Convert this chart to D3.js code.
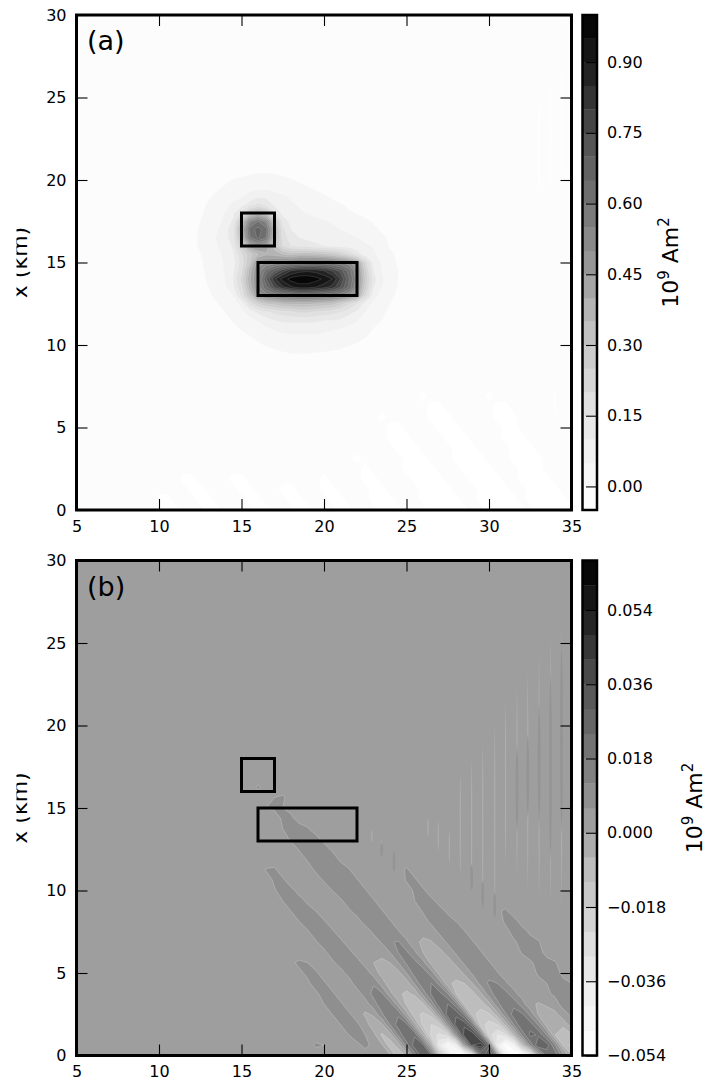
<!DOCTYPE html>
<html>
<head>
<meta charset="utf-8">
<script src="https://cdn.jsdelivr.net/npm/d3@7"></script>
<style>
  body { margin: 0; background: #fff; }
  text { font-family: "DejaVu Sans", sans-serif; }
</style>
</head>
<body>
<script>
const width = 706;
const height = 1085;

const xTicks = [5, 10, 15, 20, 25, 30, 35];
const yTicks = [0, 5, 10, 15, 20, 25, 30];
const boxes = [[15, 17, 16, 18], [16, 22, 13, 15]];

const levelsA = d3.range(-5, 101, 5); // units of 0.01
const levelsB = d3.range(-54, 67, 6); // units of 0.001
const colorbarTicksA = [0, 0.15, 0.3, 0.45, 0.6, 0.75, 0.9];
const colorbarTicksB = [-0.054, -0.036, -0.018, 0, 0.018, 0.036, 0.054];

const greysStops = ["#ffffff", "#f0f0f0", "#d9d9d9", "#bdbdbd", "#969696", "#737373", "#525252", "#252525", "#000000"];

// panel (a), blob: x 11.5..25.5 step 0.5, rows from y 21.5 down to 8.5, units of 0.01
const blobX0 = 11.5, blobDx = 0.5, blobY0 = 21.5, blobDy = -0.5;
const blobRows = [
[-3,-3,-3,-3,-3,-3,-3,-3,-3,-3,-3,-3,-3,-3,-3,-3,-3,-3,-3,-3,-3,-3,-3,-3,-3,-3,-3,-3,-3],
[-3,-3,-3,-3,-3,-3,-3,-3,-3,-3,-2.5,-2.5,-2.5,-3,-3,-3,-3,-3,-3,-3,-3,-3,-3,-3,-3,-3,-3,-3,-3],
[-3,-3,-3,-3,-3,-2.5,-1.9,-1.4,-.8,-.4,-.2,-.5,-1,-1.6,-2.3,-3,-3,-3,-3,-3,-3,-3,-3,-3,-3,-3,-3,-3,-3],
[-3,-3,-3,-3,-2,-1,.2,.8,1.3,1.6,1.6,1.2,.8,.3,-.5,-1.3,-2.2,-3,-3,-3,-3,-3,-3,-3,-3,-3,-3,-3,-3],
[-3,-3,-3,-1.5,-.5,.7,1.5,2.5,3.5,4,4,3.5,2.8,2,1.2,.4,-.5,-1.3,-2,-2.7,-3,-3,-3,-3,-3,-3,-3,-3,-3],
[-3,-2.5,-1.5,-.4,.8,2,3,4.5,7,9,9,7,5.5,4.6,3.5,2.5,1.7,.5,-.6,-1.5,-2.3,-3,-3,-3,-3,-3,-3,-3,-3],
[-3,-2,-.9,.4,1.8,3.5,6,8,12,16,13,9,6,5.4,4.7,3.8,3,2,1.2,.3,-.8,-1.7,-2.5,-3,-3,-3,-3,-3,-3],
[-3,-1.7,-.6,1,2.5,5,9,16,30,36,30,16,8,6.5,5.5,4.8,3.8,3,2.2,1.4,.6,-.3,-1.3,-2.2,-3,-3,-3,-3,-3],
[-2.3,-1.1,0,1.5,3.5,6,11,32,53,60,53,32,13,8.5,7.3,6.5,6,5.3,4.5,3.5,2.5,1.7,.8,-.4,-1.2,-2,-2.7,-3,-3],
[-2,-1,.3,2.3,4.5,7.5,14,39,62,67,62,39,16,10,8.5,7.8,7.2,6.5,5.8,5,4,3,2,.8,-.5,-1.4,-2.3,-3,-3],
[-2,-.9,.5,2.5,5.3,8,13,35,59,66,60,37,18,12,10,9,8.5,8,7.5,7,6,5,3.7,2.2,.7,-.6,-1.5,-2.4,-3],
[-2,-.9,.5,2.5,4.7,7,11,27,42,48,44,32,20,15,13,12,11,10,9,8,7.5,6.5,5.7,4.6,2.2,-.5,-1.4,-2.3,-3],
[-2.3,-1.2,-.2,1.8,3.7,6,9,19,28,35,39,38,35,33,35,35,34,32,30,26,20,13,7,5.7,3,.8,-.8,-1.8,-2.7],
[-2.5,-1.5,-.6,1.4,3.4,5.5,8,17,30,48,50,52,54,56,58,59,60,60,58,55,52,45,22,8.5,4.6,1.6,-.5,-1.6,-2.6],
[-2.7,-1.7,-.9,1,3,5.3,9,19,37,52,62,70,78,85,88,89,88,85,80,73,63,50,27,10,5,2,0,-1.3,-2.3],
[-2.8,-1.9,-1.1,.6,2.5,5,10,22,39,52,70,84,92,97,99,99,97,94,90,80,66,52,29,12,5.7,2.2,0,-1.3,-2.3],
[-3,-2.1,-1.2,0,2,4.2,9,19,37,52,64,76,84,89,92,92,90,87,83,75,64,50,27,10,5,2,-.3,-1.6,-2.5],
[-3,-2.3,-1.5,-.7,1.2,3.2,5,16,30,47,52,55,58,60,62,62,61,60,58,55,50,43,21,7,3,.8,-.7,-2,-2.8],
[-3,-2.6,-2,-1.2,-.3,1.7,3.5,6,17,25,30,32,35,36,36,36,35,34,32,27,21,15,8,3.7,1.8,0,-1.3,-2.4,-3],
[-3,-3,-2.5,-1.8,-1,0,2,4,7,11,14,16,18,19,21,21,19,18,17,15,12,9,5,2.5,.7,-.7,-1.8,-2.8,-3],
[-3,-3,-3,-2.4,-1.6,-.8,.3,2,3.6,5.4,8,10,11,11,11,11,11,10,10,9,7,5.5,3,1.2,0,-1.3,-2.2,-3,-3],
[-3,-3,-3,-3,-2.4,-1.6,-.8,.3,1.7,3,4.2,5.8,7,7.5,7.5,7.5,7,6.3,5.5,5,3.8,2.5,1.2,0,-1.1,-2,-2.8,-3,-3],
[-3,-3,-3,-3,-3,-2.4,-1.7,-1,-.2,.8,1.6,2.4,3.2,3.7,4,4.1,4,3.7,3.2,2.6,1.8,1,.2,-.8,-1.8,-2.6,-3,-3,-3],
[-3,-3,-3,-3,-3,-3,-2.6,-1.9,-1.3,-.5,.3,.9,1.4,1.7,1.9,2,1.9,1.7,1.3,.9,.3,-.4,-1.2,-2,-2.7,-3,-3,-3,-3],
[-3,-3,-3,-3,-3,-3,-3,-3,-3,-2.5,-1.6,-.9,-.3,.05,.1,.05,-.1,-.3,-.6,-1,-1.6,-2.2,-2.8,-3,-3,-3,-3,-3,-3],
[-3,-3,-3,-3,-3,-3,-3,-3,-3,-3,-2.5,-2,-1.5,-1.3,-1.3,-1.4,-1.6,-2,-2.5,-3,-3,-3,-3,-3,-3,-3,-3,-3,-3],
[-3,-3,-3,-3,-3,-3,-3,-3,-3,-3,-3,-3,-3,-3,-3,-3,-3,-3,-3,-3,-3,-3,-3,-3,-3,-3,-3,-3,-3]
];

// panel (a), white streaks under the lowest level: x 10..35 step 0.5, rows from y 0 up step 0.625
const streakX0 = 10, streakDx = 0.5, streakY0 = 0, streakDy = 0.625;
const streakRows = [
[-3,-7,-7,-3,-3,-3,-7,-7,-3,-3,-3,-3,-7,-7,-3,-3,-3,-7,-7,-3,-3,-3,-7,-7,-3,-3,-3,-7,-7,-7,-3,-3,-3,-7,-7,-7,-7,-7,-3,-3,-7,-7,-7,-7,-7,-3,-7,-7,-7,-7,-7],
[-7,-7,-3,-3,-3,-7,-7,-3,-3,-3,-3,-7,-7,-3,-3,-3,-7,-7,-3,-3,-3,-7,-7,-3,-3,-3,-7,-7,-7,-3,-3,-3,-7,-7,-7,-7,-7,-3,-3,-7,-7,-7,-7,-7,-3,-7,-7,-7,-7,-7,-3],
[-3,-3,-3,-3,-7,-7,-3,-3,-3,-3,-7,-7,-3,-3,-3,-7,-7,-3,-3,-3,-7,-7,-3,-3,-3,-3,-7,-7,-3,-3,-3,-3,-7,-7,-7,-7,-3,-3,-3,-7,-7,-7,-7,-3,-3,-7,-7,-7,-7,-3,-3],
[-3,-3,-3,-7,-7,-3,-3,-3,-3,-7,-7,-3,-3,-3,-3,-3,-3,-3,-3,-3,-7,-3,-3,-3,-3,-7,-7,-3,-3,-3,-3,-7,-7,-7,-7,-3,-3,-3,-7,-7,-7,-7,-3,-3,-7,-7,-7,-7,-3,-3,-3],
[-3,-3,-3,-3,-3,-3,-3,-3,-3,-3,-3,-3,-3,-3,-3,-3,-3,-3,-3,-3,-3,-3,-3,-3,-3,-7,-3,-3,-3,-3,-7,-7,-7,-7,-3,-3,-3,-7,-7,-7,-7,-3,-3,-3,-7,-7,-7,-3,-3,-3,-3],
[-3,-3,-3,-3,-3,-3,-3,-3,-3,-3,-3,-3,-3,-3,-3,-3,-3,-3,-3,-3,-3,-3,-3,-3,-7,-3,-3,-3,-3,-3,-7,-7,-7,-3,-3,-3,-7,-7,-7,-7,-3,-3,-3,-7,-7,-7,-7,-3,-3,-3,-3],
[-3,-3,-3,-3,-3,-3,-3,-3,-3,-3,-3,-3,-3,-3,-3,-3,-3,-3,-3,-3,-3,-3,-3,-3,-3,-3,-3,-3,-3,-7,-7,-7,-3,-3,-3,-3,-7,-7,-7,-3,-3,-3,-3,-7,-7,-7,-3,-3,-3,-3,-3],
[-3,-3,-3,-3,-3,-3,-3,-3,-3,-3,-3,-3,-3,-3,-3,-3,-3,-3,-3,-3,-3,-3,-3,-3,-3,-3,-3,-3,-7,-7,-7,-3,-3,-3,-3,-7,-7,-7,-3,-3,-3,-3,-7,-7,-7,-3,-3,-3,-3,-3,-3],
[-3,-3,-3,-3,-3,-3,-3,-3,-3,-3,-3,-3,-3,-3,-3,-3,-3,-3,-3,-3,-3,-3,-3,-3,-3,-3,-3,-3,-7,-7,-3,-3,-3,-3,-7,-7,-7,-3,-3,-3,-3,-3,-7,-7,-3,-3,-3,-3,-3,-3,-3],
[-3,-3,-3,-3,-3,-3,-3,-3,-3,-3,-3,-3,-3,-3,-3,-3,-3,-3,-3,-3,-3,-3,-3,-3,-3,-3,-3,-7,-3,-3,-3,-3,-3,-7,-7,-7,-3,-3,-3,-3,-3,-7,-7,-7,-3,-3,-3,-3,-3,-3,-3],
[-3,-3,-3,-3,-3,-3,-3,-3,-3,-3,-3,-3,-3,-3,-3,-3,-3,-3,-3,-3,-3,-3,-3,-3,-3,-3,-3,-3,-3,-3,-3,-3,-3,-7,-7,-3,-3,-3,-3,-3,-3,-7,-7,-3,-3,-3,-3,-3,-3,-3,-3],
[-3,-3,-3,-3,-3,-3,-3,-3,-3,-3,-3,-3,-3,-3,-3,-3,-3,-3,-3,-3,-3,-3,-3,-3,-3,-3,-3,-3,-3,-3,-3,-3,-7,-3,-3,-3,-3,-3,-3,-3,-7,-3,-3,-3,-3,-3,-3,-3,-3,-3,-3],
[-3,-3,-3,-3,-3,-3,-3,-3,-3,-3,-3,-3,-3,-3,-3,-3,-3,-3,-3,-3,-3,-3,-3,-3,-3,-3,-3,-3,-3,-3,-3,-3,-3,-3,-3,-3,-3,-3,-3,-3,-3,-3,-3,-3,-3,-3,-3,-3,-3,-3,-3]
];
const streakLineX = [33.04, 33.73, 34.4, 34.0];
const streakLineTop = [25, 26, 27, 7.4];
const streakLineBottom = [19, 19.5, 20, 5.7];

// panel (b): x 15..35 step 0.5, rows from y 0 up step 0.625, units of 0.001
const fieldX0 = 15, fieldDx = 0.5, fieldY0 = 0, fieldDy = 0.625;
const fieldRows = [
[3,3,3,3,3,3,3,3,3,3,3,3,3,3,3,4,5,4,1,-10,-5,15,28,24,-8,-30,-52,-54,-30,20,40,15,-40,-54,-52,-35,0,20,22,8,-5],
[3,3,3,3,3,3,3,3,3,7,6,3,3,3,5,7,5,1,-9,-4,15,28,26,-1,-34,-46,-37,8,42,46,27,-35,-50,-42,-10,13,30,27,13,-7,-14],
[3,3,3,3,3,3,3,3,4,3,3,3,3,6,8,6,2,-7,-3,13,24,23,0,-20,-26,-21,11,39,41,23,-21,-30,-26,-6,13,26,23,12,-6,-12,-7],
[3,3,3,3,3,3,3,3,3,3,3,3,6,8,7,3,-4,-1,12,21,20,1,-14,-18,-14,10,33,35,20,-15,-21,-18,-4,12,24,21,11,-3,-6,-4,3],
[3,3,3,3,3,3,3,3,3,3,3,6,8,7,3,-1,1,11,18,17,2,-10,-13,-10,9,28,29,17,-10,-15,-13,-3,11,21,19,10,-1,-3,-2,4,7],
[3,3,3,3,3,3,3,3,3,3,6,8,7,3,2,3,10,15,14.5,2,-7,-10,-7,8,23,24,14,-8,-11,-9,-2,10,18,16,9,1,-.5,1,4,8,9],
[3,3,3,3,3,3,3,3,3,5,8,7,3,3,3,9,13.5,13,2,-5,-7,-5,8,19,20,12,-6,-9,-8,-1,9,15.5,14,8,3,2,3,5,7,9,8],
[3,3,3,3,3,3,3,3,5,8,7,3,3,3,9,12,11.5,3,-3.5,-5,-3.5,7,17,18,10,-5,-7,-6,0,8,13,12,7,3,3,3,4,6,9,8,6],
[3,3,3,3,3,3,3,5,7,7,3,3,4,8,10.5,10,3,-2,-3,-2,6,15,16,9,-3,-5,-4,1,7,11,10,6.5,3,3,3,3,7,8,9,4,3],
[3,3,3,3,3,3,5,7,6,3,3,5,8,9.5,9,3,0,-1.5,0,6,13,14,8,-2,-4,-3,1.5,7,10,9,6.5,3,3,3,3,5,8,8,6.5,3,3],
[3,3,3,3,3,3,4,3,3,3,5,8,9,8,3,2,1,2,6,12,13,7,0,-3,-2,2,7,9,9,6.5,3,3,3,3,6.5,9,8,4,3,3,3],
[3,3,3,3,3,3,3,3,3,5.5,8,9,7.5,3,3,3,3,6.5,11.5,12.5,7,2,-1.5,-.5,3,7,8,8,6.5,3,3,3,3,5,8,8,6.5,3,3,3,3],
[3,3,3,3,3,3,3,3,5.5,8,8.5,7,3,3,3,3,7,10,10.5,6.5,3,1,2,3.5,7,8,8,6.5,3,3,3,3,4,8,8,5,3,3,3,3,3],
[3,3,3,3,3,3,3,6,8,8,6.5,3,3,3,4,8,10,10,6.5,3,3,3,4,7,8,8,6,3,3,3,3,3,7,8,4,3,3,3,3,3,3],
[3,3,3,3,3,3,6,8,8,6,3,3,3,5,8,9,9,6.5,3,3,3,3,6.5,8,8,5,3,3,3,3,3,5,7,3,3,3,3,3,3,3,3],
[3,3,3,3,3,6,8,8,5,3,3,3,5,8.5,9,9,6.5,3,3,3,3,6,8,7.5,4,3,3,3,3,3,3,3,3,3,3,3,3,3,3,3,3],
[3,3,3,3,5.5,8,7.5,4,3,3,3,6,9,9,9,6.5,3,3,3,3,3,7,7,3,3,3,3,3,3,3,3,3,3,3,3,3,3,3,3,3,3],
[3,3,3,3,7,7,3,3,3,3,6.5,9,9,9,6.5,3,3,3,3,3,6.5,7,3,3,3,3,3,3,3,3,3,3,3,3,3,3,3,3,3,3,3],
[3,3,3,6.5,7,3,3,3,3,7,9,9,9,6.5,3,3,3,3,3,3,7,3,3,3,3,3,3,3,3,3,3,3,3,3,3,3,3,3,3,3,3],
[3,3,3,3,3,3,3,3,6.5,9,9,9,5,3,3,3,3,3,3,3,3,3,3,3,3,3,3,3,3,3,3,3,3,3,3,3,3,3,3,3,3],
[3,3,3,3,3,3,3,6.5,9,9,8.5,5,3,3,3,3,3,3,3,3,3,3,3,3,3,3,3,3,3,3,3,3,3,3,3,3,3,3,3,3,3],
[3,3,3,3,3,3,7,9,9,8,4,3,3,3,3,3,3,3,3,3,3,3,3,3,3,3,3,3,3,3,3,3,3,3,3,3,3,3,3,3,3],
[3,3,3,3,3,6,8,9,6.5,3,3,3,3,3,3,3,3,3,3,3,3,3,3,3,3,3,3,3,3,3,3,3,3,3,3,3,3,3,3,3,3],
[3,3,3,3,3,7,7.5,3,3,3,3,3,3,3,3,3,3,3,3,3,3,3,3,3,3,3,3,3,3,3,3,3,3,3,3,3,3,3,3,3,3],
[3,3,5,6,7,6,4,3,3,3,3,3,3,3,3,3,3,3,3,3,3,3,3,3,3,3,3,3,3,3,3,3,3,3,3,3,3,3,3,3,3],
[3,3,3,3,6,7,3,3,3,3,3,3,3,3,3,3,3,3,3,3,3,3,3,3,3,3,3,3,3,3,3,3,3,3,3,3,3,3,3,3,3],
[3,3,7,3,3,3,3,3,3,3,3,3,3,3,3,3,3,3,3,3,3,3,3,3,3,3,3,3,3,3,3,3,3,3,3,3,3,3,3,3,3],
[3,3,3,3,3,3,3,3,3,3,3,3,3,3,3,3,3,3,3,3,3,3,3,3,3,3,3,3,3,3,3,3,3,3,3,3,3,3,3,3,3],
[3,3,3,3,3,3,3,3,3,3,3,3,3,3,3,3,3,3,3,3,3,3,3,3,3,3,3,3,3,3,3,3,3,3,3,3,3,3,3,3,3],
[7,3,3,3,3,3,3,3,3,3,3,3,3,3,3,3,3,3,3,3,3,3,3,3,3,3,3,3,3,3,3,3,3,3,3,3,3,3,3,3,3]
];

// panel (b), thin vertical streaks: pale line and darker core, y in km
const paleX = [26.3, 26.93, 27.6, 28.26, 28.95, 29.62, 30.35, 31, 31.7, 32.35, 33.04, 33.73, 34.4, 22.9, 23.5, 24.24];
const paleTop = [14.45, 14.25, 13.64, 17.18, 17.98, 18.9, 20.2, 21.5, 22.4, 23.34, 24.45, 25.26, 26.06, 13.7, 13.1, 12.5];
const paleBottom = [13.2, 12.35, 11.65, 10.84, 10.03, 9, 8.3, 11.6, 10.8, 10, 9.4, 9.2, 8.8, 12.9, 11.85, 11];
const coreX = [28.95, 29.62, 30.35, 31.7, 32.35, 33.04, 33.73, 34.4, 23.5, 24.24];
const coreTop = [11.6, 10.6, 9.9, 18.9, 19.5, 21.5, 23.3, 25.2, 12.9, 12.45];
const coreBottom = [10, 9, 8.3, 13.4, 14.4, 13.8, 11.8, 13.4, 12, 11.04];

const greys = d3.scaleLinear().domain(greysStops.map((d, i) => i / 8)).range(greysStops);

// same colour rule as the colorbars: middle of each band on the level range
function bandColors(levels) {
  const lo = levels[0], hi = levels[levels.length - 1];
  return d3.pairs(levels).map(([a, b]) => greys(((a + b) / 2 - lo) / (hi - lo)));
}

const svg = d3.select("body").append("svg")
  .attr("width", width).attr("height", height)
  .attr("viewBox", [0, 0, width, height])
  .style("display", "block");
const defs = svg.append("defs");

const panelLeft = 76.5, panelRight = 571.5;
const x = d3.scaleLinear().domain([5, 35]).range([panelLeft, panelRight]);

function gridPath(yScale, x0, dx, y0, dy) {
  const projection = d3.geoTransform({
    point(px, py) {
      this.stream.point(x(x0 + (px - 0.5) * dx), yScale(y0 + (py - 0.5) * dy));
    }
  });
  return d3.geoPath(projection);
}

function contourGrid(rows, thresholds) {
  const n = rows[0].length;
  rows.forEach((r, i) => {
    if (r.length !== n) throw new Error(`row ${i} has ${r.length} values, expected ${n}`);
  });
  return d3.contours().size([n, rows.length]).thresholds(thresholds)(rows.flat());
}

function addAxes(g, y) {
  g.append("g").attr("transform", `translate(${panelLeft},0)`)
    .call(d3.axisLeft(y).tickValues(yTicks).tickSize(-11).tickPadding(10));
  g.append("g").attr("transform", `translate(0,${y.range()[0]})`)
    .call(d3.axisBottom(x).tickValues(xTicks).tickSize(-11).tickPadding(10.5));
  g.append("g").attr("transform", `translate(${panelRight},0)`)
    .call(d3.axisRight(y).tickValues(yTicks).tickSize(-11).tickFormat(""));
  g.append("g").attr("transform", `translate(0,${y.range()[1]})`)
    .call(d3.axisTop(x).tickValues(xTicks).tickSize(-11).tickFormat(""));
  g.selectAll(".domain").remove();
  g.selectAll(".tick text").attr("font-size", 16).attr("fill", "#000").attr("font-family", "DejaVu Sans");
  g.selectAll(".tick line").attr("stroke", "#000").attr("stroke-width", 1.1);
}

function addBoxes(g, y) {
  g.append("g").selectAll("rect").data(boxes).join("rect")
    .attr("x", d => x(d[0]))
    .attr("width", d => x(d[1]) - x(d[0]))
    .attr("y", d => y(d[3]))
    .attr("height", d => y(d[2]) - y(d[3]))
    .attr("fill", "none").attr("stroke", "#000").attr("stroke-width", 3);
}

function addFrame(g, y) {
  g.append("rect")
    .attr("x", panelLeft).attr("y", y.range()[1])
    .attr("width", panelRight - panelLeft).attr("height", y.range()[0] - y.range()[1])
    .attr("fill", "none").attr("stroke", "#000").attr("stroke-width", 3);
}

function addColorbar(g, y, levels, unit, ticks, format) {
  const colors = bandColors(levels);
  const cx = 582.5, cw = 14.5;
  const cy = d3.scaleLinear().domain([levels[0] * unit, levels[levels.length - 1] * unit]).range(y.range());
  g.append("g").selectAll("rect").data(d3.pairs(levels)).join("rect")
    .attr("x", cx).attr("width", cw)
    .attr("y", d => cy(d[1] * unit))
    .attr("height", d => cy(d[0] * unit) - cy(d[1] * unit) + 0.3)
    .attr("fill", (d, i) => colors[i]);
  const axis = g.append("g").attr("transform", `translate(${cx + cw},0)`)
    .call(d3.axisRight(cy).tickValues(ticks).tickSize(-11).tickPadding(10).tickFormat(d3.format(format)));
  axis.select(".domain").remove();
  axis.selectAll(".tick text").attr("font-size", 16).attr("fill", "#000").attr("font-family", "DejaVu Sans");
  axis.selectAll(".tick line").attr("stroke", "#000").attr("stroke-width", 1.1);
  g.append("rect")
    .attr("x", cx).attr("y", y.range()[1]).attr("width", cw).attr("height", y.range()[0] - y.range()[1])
    .attr("fill", "none").attr("stroke", "#000").attr("stroke-width", 2.5);
}

function addLabels(g, y, letter, labelX) {
  const mid = (y.range()[0] + y.range()[1]) / 2;
  const id = "clip-label-" + letter;
  // the axis title is cut along its left side in the reference
  defs.append("clipPath").attr("id", id).append("rect")
    .attr("x", 16.5).attr("y", mid - 60).attr("width", 30).attr("height", 120);
  g.append("g").attr("clip-path", `url(#${id})`).append("text")
    .attr("transform", `translate(27,${mid}) rotate(-90)`)
    .attr("text-anchor", "middle").attr("font-size", 22)
    .text("x (km)");
  g.append("text")
    .attr("x", 87).attr("y", y.range()[1] + 35)
    .attr("font-size", 27)
    .text(`(${letter})`);
  const unit = g.append("text")
    .attr("transform", `translate(${labelX},${mid}) rotate(-90)`)
    .attr("text-anchor", "middle").attr("font-size", 22);
  unit.append("tspan").text("10");
  unit.append("tspan").attr("dy", -9).attr("font-size", 15).text("9");
  unit.append("tspan").attr("dy", 9).text(" Am");
  unit.append("tspan").attr("dy", -9).attr("font-size", 15).text("2");
}

// slim lens shape along a constant x
function drawStreaks(g, y, xs, tops, bottoms, color, w) {
  const lens = d3.area().curve(d3.curveCardinal)
    .x0(d => d[0] - d[2]).x1(d => d[0] + d[2]).y(d => d[1]);
  g.append("g").selectAll("path").data(xs).join("path")
    .attr("d", (d, i) => {
      const px = x(d), top = y(tops[i]), bottom = y(bottoms[i]);
      return lens([[px, top, 0], [px, top + (bottom - top) * 0.2, w * 0.42], [px, (top + bottom) / 2, w / 2],
        [px, top + (bottom - top) * 0.8, w * 0.42], [px, bottom, 0]]);
    })
    .attr("fill", color);
}

function clipFor(id, y, x0, x1, y0, y1) {
  defs.append("clipPath").attr("id", id).append("rect")
    .attr("x", Math.round(x(x0))).attr("width", Math.round(x(x1)) - Math.round(x(x0)))
    .attr("y", Math.round(y(y1))).attr("height", Math.round(y(y0)) - Math.round(y(y1)));
  return `url(#${id})`;
}

// panel (a)
{
  const g = svg.append("g");
  const y = d3.scaleLinear().domain([0, 30]).range([510, 15]);
  const colors = bandColors(levelsA);
  g.append("rect").attr("x", panelLeft).attr("y", 15)
    .attr("width", panelRight - panelLeft).attr("height", 495).attr("fill", colors[0]);

  const plot = g.append("g").attr("clip-path", clipFor("clip-a", y, 5, 35, 0, 30));
  const streakPath = gridPath(y, streakX0, streakDx, streakY0, streakDy);
  plot.append("g").selectAll("path")
    .data(contourGrid(streakRows.map(r => r.map(v => -v)), [5])).join("path")
    .attr("d", streakPath).attr("fill", "#fff");
  drawStreaks(plot, y, streakLineX, streakLineTop, streakLineBottom, "#fff", 1.5);

  const blobPath = gridPath(y, blobX0, blobDx, blobY0, blobDy);
  const thresholds = levelsA.slice(1, -1);
  plot.append("g").selectAll("path")
    .data(contourGrid(blobRows, thresholds)).join("path")
    .attr("d", blobPath)
    .attr("fill", (d, i) => colors[i + 1])
    .attr("stroke", (d, i) => i > 3 ? "#fff" : "none")
    .attr("stroke-opacity", 0.22).attr("stroke-width", 0.6);

  addBoxes(g, y);
  addAxes(g, y);
  addFrame(g, y);
  addColorbar(g, y, levelsA, 0.01, colorbarTicksA, ".2f");
  addLabels(g, y, "a", 678);
}

// panel (b)
{
  const g = svg.append("g");
  const y = d3.scaleLinear().domain([0, 30]).range([1055.5, 560.5]);
  const colors = bandColors(levelsB);
  const zeroBand = levelsB.indexOf(0);
  g.append("rect").attr("x", panelLeft).attr("y", 560.5)
    .attr("width", panelRight - panelLeft).attr("height", 495).attr("fill", colors[zeroBand]);

  const plot = g.append("g").attr("clip-path", clipFor("clip-b", y, 15, 35, 0, 18.2));
  const fieldPath = gridPath(y, fieldX0, fieldDx, fieldY0, fieldDy);
  plot.append("g").selectAll("path")
    .data(contourGrid(fieldRows, levelsB.slice(0, -1))).join("path")
    .attr("d", fieldPath)
    .attr("fill", (d, i) => colors[i])
    .attr("stroke", "#fff").attr("stroke-opacity", 0.3).attr("stroke-width", 0.7);

  const streaks = g.append("g").attr("clip-path", clipFor("clip-b2", y, 5, 35, 0, 30));
  drawStreaks(streaks, y, paleX, paleTop, paleBottom, "#aeaeae", 1.2);
  drawStreaks(streaks, y, coreX, coreTop, coreBottom, "#949494", 2.6);

  addBoxes(g, y);
  addAxes(g, y);
  addFrame(g, y);
  addColorbar(g, y, levelsB, 0.001, colorbarTicksB, ".3f");
  addLabels(g, y, "b", 702);
}
</script>
</body>
</html>
